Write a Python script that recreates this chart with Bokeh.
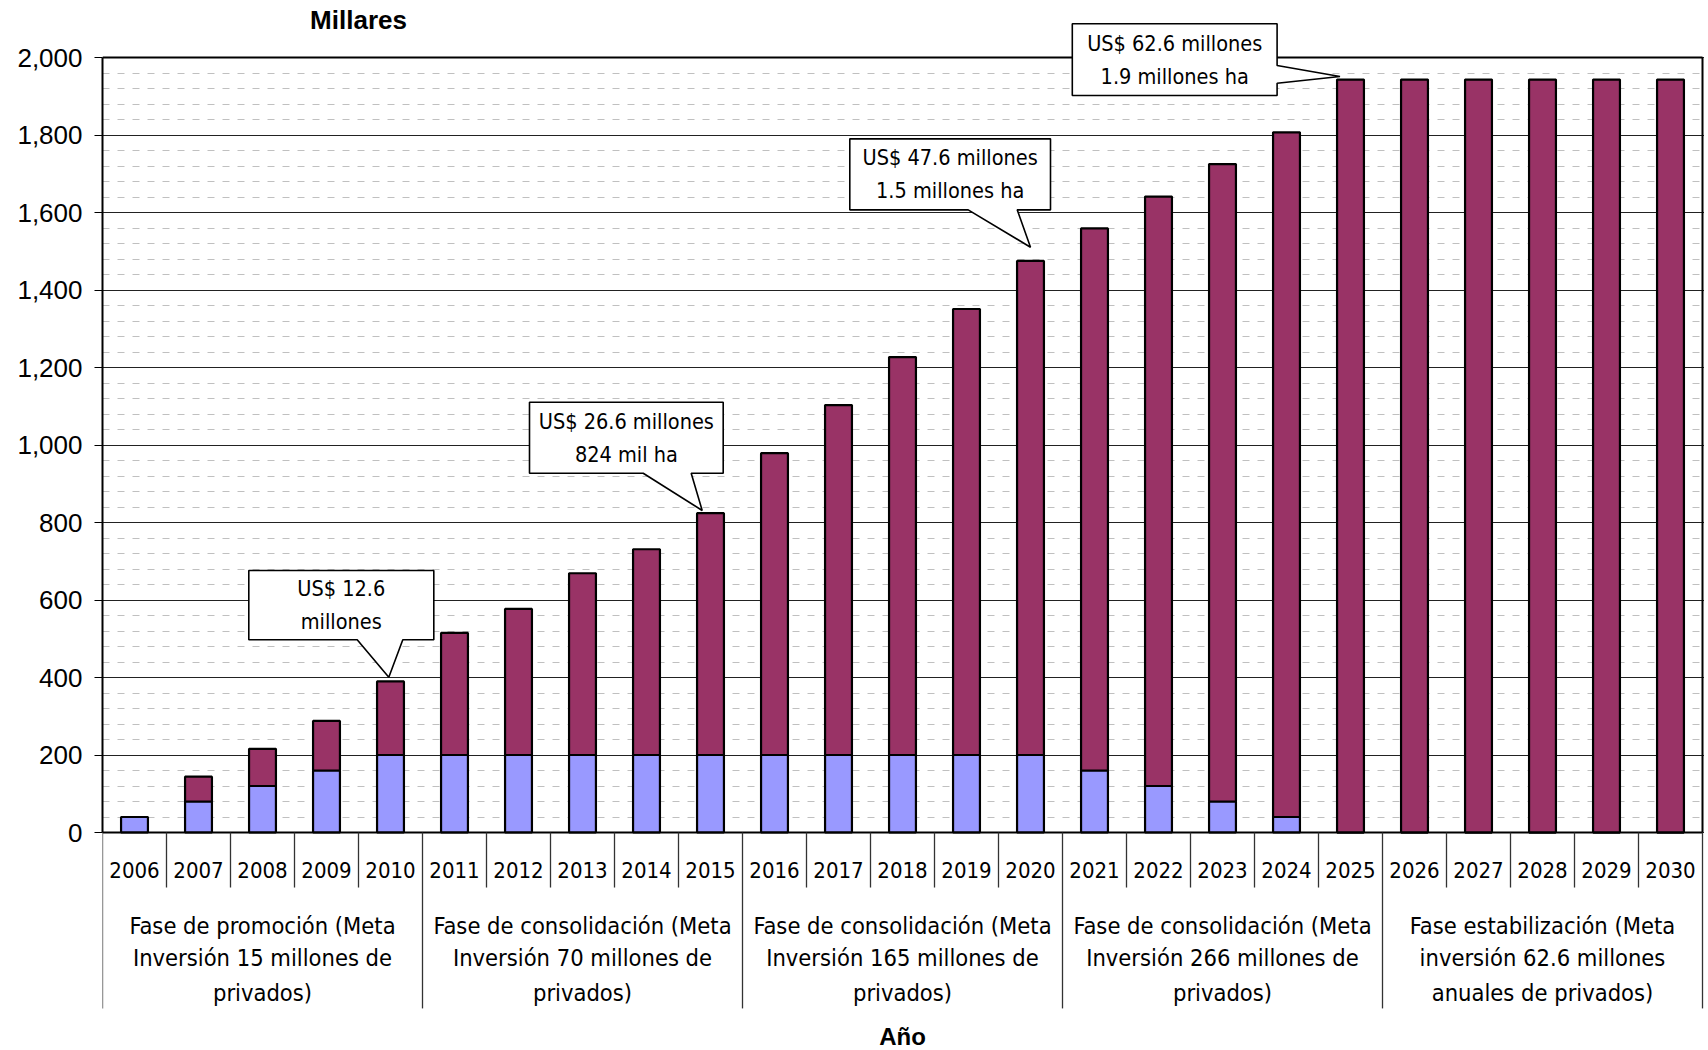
from bokeh.plotting import figure
from bokeh.models import Range1d, SingleIntervalTicker, NumeralTickFormatter, ColumnDataSource
from bokeh.core.properties import value
from bokeh.embed import file_html
from bokeh.resources import INLINE

# ---------------- data ----------------
years = [str(y) for y in range(2006, 2031)]
azul = [40, 80, 120, 160, 200, 200, 200, 200, 200, 200, 200, 200, 200, 200, 200,
        160, 120, 80, 40, 0, 0, 0, 0, 0, 0]
granate = [0, 64, 96, 128, 190, 315, 377, 469, 531, 624, 779, 903, 1027, 1151, 1275,
           1399, 1521, 1645, 1767, 1943, 1943, 1943, 1943, 1943, 1943]
phase_lines = [
    ["Fase de promoción (Meta", "Inversión 15 millones de", "privados)"],
    ["Fase de consolidación (Meta", "Inversión 70 millones de", "privados)"],
    ["Fase de consolidación (Meta", "Inversión 165 millones de", "privados)"],
    ["Fase de consolidación (Meta", "Inversión 266 millones de", "privados)"],
    ["Fase estabilización (Meta", "inversión 62.6 millones", "anuales de privados)"],
]
phase_size = [5, 5, 5, 5, 5]
y_max = 2000
y_step = 200
callout_years = ["2010", "2015", "2020", "2025"]
callout_text = [
    ["US$ 12.6", "millones"],
    ["US$ 26.6 millones", "824 mil ha"],
    ["US$ 47.6 millones", "1.5 millones ha"],
    ["US$ 62.6 millones", "1.9 millones ha"],
]

# ---------------- layout / style ----------------
W, H = 1704, 1050
LEFT = 102
PX = 64.0          # px per category
PY = 0.3875        # px per unit
Y0_PIX = 832       # pixel (from top of figure) of value 0
y_top = Y0_PIX / PY
y_bot = -(H - Y0_PIX) / PY
x_end = (W - LEFT) / PX

NARROW = value("DejaVu Sans Condensed, Liberation Sans, sans-serif")
ARIAL = value("Liberation Sans")
MAROON = "#993366"
BLUE = "#9999FF"

p = figure(width=W, height=H, x_range=Range1d(0, x_end), y_range=Range1d(y_bot, y_top),
           x_axis_type=None, output_backend="svg", toolbar_location=None,
           min_border_left=LEFT, min_border_right=0, min_border_top=0, min_border_bottom=0)
p.outline_line_color = None
p.background_fill_color = "white"

yax = p.yaxis[0]
yax.bounds = (0, y_max)
yax.ticker = SingleIntervalTicker(interval=y_step, num_minor_ticks=5)
yax.formatter = NumeralTickFormatter(format="0,0")
yax.axis_line_width = 2
yax.axis_line_color = "black"
yax.major_tick_out = 8
yax.major_tick_in = 0
yax.major_tick_line_color = "black"
yax.minor_tick_out = 0
yax.minor_tick_in = 0
yax.major_label_standoff = 12
yax.major_label_text_font = "Liberation Sans"
yax.major_label_text_font_size = "26px"
yax.major_label_text_color = "black"

p.ygrid.grid_line_color = "#222222"
p.ygrid.grid_line_width = 1
p.ygrid.minor_grid_line_color = "#c0c0c0"
p.ygrid.minor_grid_line_dash = "7 8"
p.ygrid.minor_grid_line_width = 1

n = len(years)
xc = [i + 0.5 for i in range(n)]
src = ColumnDataSource(dict(x=xc, azul=azul, granate=granate))
p.vbar_stack(["azul", "granate"], x="x", width=0.42, source=src,
             color=[BLUE, MAROON], line_color="black", line_width=2.2)

# frame borders
p.segment(x0=[0, 0, n], y0=[y_max, 0, 0], x1=[n, n, n], y1=[y_max, 0, y_max],
          line_color="black", line_width=2)

# category separators below axis
sx, sy0, sy1 = [], [], []
bounds = [0]
for s in phase_size:
    bounds.append(bounds[-1] + s)
for k in range(n + 1):
    sx.append(k)
    sy0.append(0)
    sy1.append(-454 if k in bounds else -142)
p.segment(x0=sx, y0=sy0, x1=sx, y1=sy1, line_color="#333333", line_width=1.3)

# year labels
p.text(x=xc, y=[-98] * n, text=years, text_font=NARROW, text_font_size=value("22px"),
       text_align="center", text_baseline="middle", text_color="black")

# phase labels
line_y = [-240, -325, -413]
for gi, lines in enumerate(phase_lines):
    cx = (bounds[gi] + bounds[gi + 1]) / 2
    p.text(x=[cx] * 3, y=line_y, text=lines, text_font=NARROW, text_font_size=value("23.5px"),
           text_align="center", text_baseline="middle", text_color="black")

# axis titles
p.text(x=[n / 2], y=[-527], text=["Año"], text_font=ARIAL, text_font_size=value("24px"),
       text_font_style="bold", text_align="center", text_baseline="middle", text_color="black")
p.text(x=[4.0], y=[2098], text=["Millares"], text_font=ARIAL, text_font_size=value("26px"),
       text_font_style="bold", text_align="center", text_baseline="middle", text_color="black")

# callouts (pixel offsets relative to top-centre of the bar)
geom = [
    dict(box=(-141.7, 43.3, -110.9, -41.6), base=(-33.3, 12.3), tip=(-1.7, -4.2), side=False),
    dict(box=(-181.0, 12.7, -111.0, -40.0), base=(-67.3, -19.3), tip=(-8.3, -2.7), side=False),
    dict(box=(-180.7, 20.0, -122.1, -51.1), base=(-62.3, -13.3), tip=(0.0, -13.7), side=False),
    dict(box=(-278.2, -73.4, -55.8, 15.9), base=(-14.1, 3.6), tip=(-10.5, -3.1), side=True),
]
for yr, g, txt in zip(callout_years, geom, callout_text):
    i = years.index(yr)
    bx = xc[i]
    by = azul[i] + granate[i]

    def cv(dx, dy):
        return bx + dx / PX, by - dy / PY

    L, R, T, B = g["box"]
    if not g["side"]:
        pts = [(L, T), (R, T), (R, B), (g["base"][1], B), g["tip"], (g["base"][0], B), (L, B)]
    else:
        pts = [(L, T), (R, T), (R, g["base"][0]), g["tip"], (R, g["base"][1]), (R, B), (L, B)]
    conv = [cv(a, b) for a, b in pts]
    cxp = (L + R) / 2
    cyp = (T + B) / 2
    t1 = cv(cxp, cyp - 16.5)
    t2 = cv(cxp, cyp + 16.5)
    p.patches(xs=[[c[0] for c in conv]], ys=[[c[1] for c in conv]],
              fill_color="white", line_color="black", line_width=1.6)
    p.text(x=[t1[0], t2[0]], y=[t1[1], t2[1]], text=txt, text_font=NARROW,
           text_font_size=value("21.5px"), text_align="center", text_baseline="middle",
           text_color="black")

open("out.html", "w").write(file_html(p, INLINE))
